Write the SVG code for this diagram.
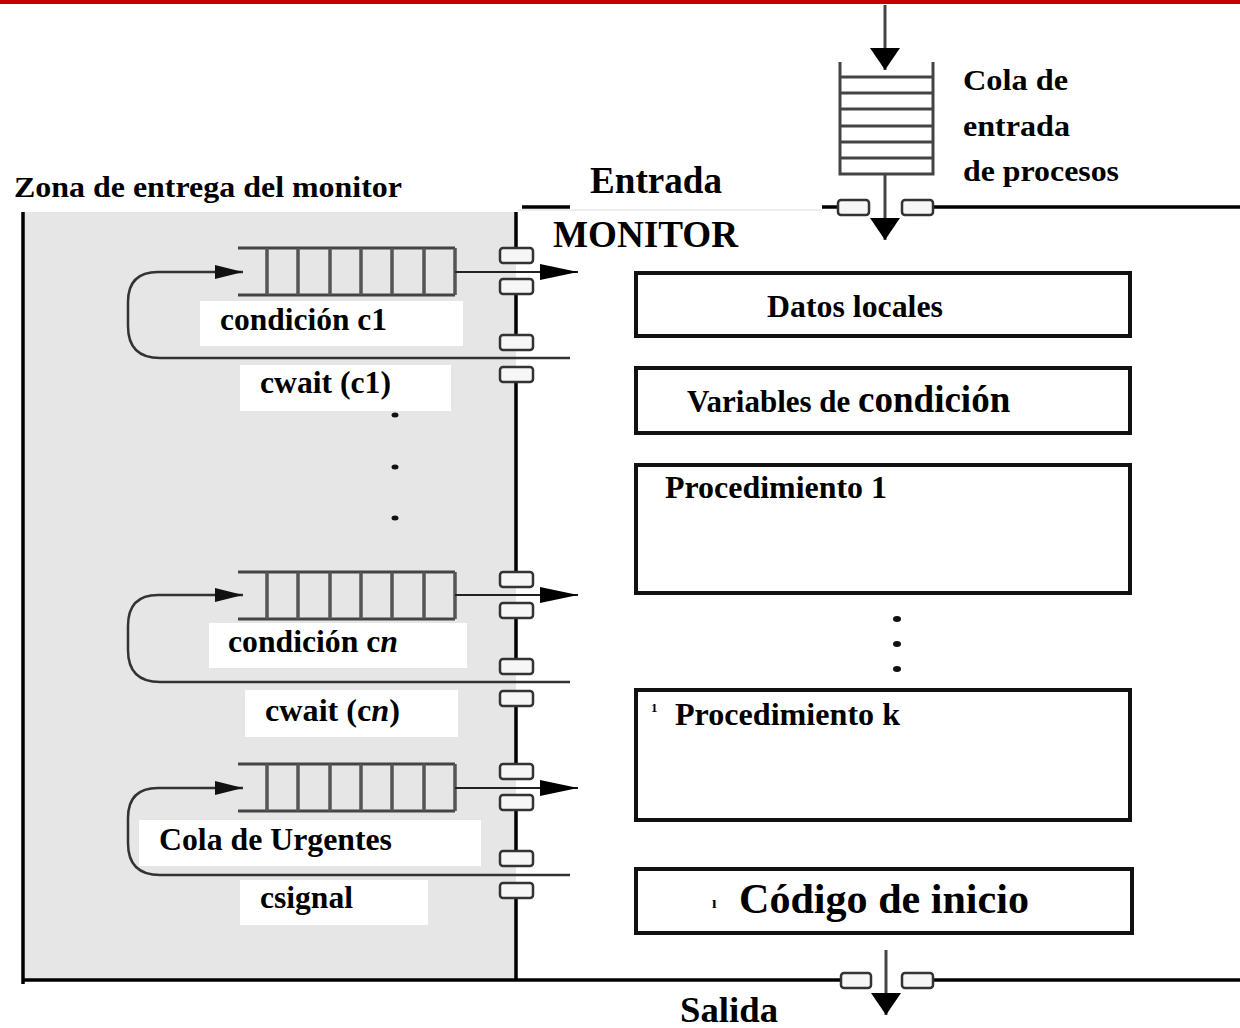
<svg xmlns="http://www.w3.org/2000/svg" xmlns:xlink="http://www.w3.org/1999/xlink" width="1240" height="1028" viewBox="0 0 1240 1028">
<style>
  .t { font-family: "Liberation Serif", "Times New Roman", serif; font-weight: bold; fill: #000; }
  .wall { stroke: #000; stroke-width: 3.5; fill: none; }
  .sq { fill: #f6f6f6; stroke: #333; stroke-width: 2.5; }
  .qline { stroke: #444; stroke-width: 3; fill: none; }
  .qbar { stroke: #555; stroke-width: 3.5; }
  .box { fill: #fff; stroke: #111; stroke-width: 4; }
  .lbl { fill: #fff; }
  .thin { stroke: #222; stroke-width: 2; fill: none; }
  .loop { stroke: #333; stroke-width: 2.5; fill: none; }
  .varrow { stroke: #444; stroke-width: 3; fill: none; }
  .dot { fill: #111; }
</style>
<defs>
  <marker id="arrQ" viewBox="0 0 38 16" refX="38" refY="8" markerWidth="38" markerHeight="16" markerUnits="userSpaceOnUse" orient="auto"><path d="M0,0 L38,8 L0,16 z" fill="#000"/></marker>
  <marker id="arrL" viewBox="0 0 28 14" refX="28" refY="7" markerWidth="28" markerHeight="14" markerUnits="userSpaceOnUse" orient="auto"><path d="M0,0 L28,7 L0,14 z" fill="#111"/></marker>
  <marker id="arrV" viewBox="0 0 22 30" refX="22" refY="15" markerWidth="22" markerHeight="30" markerUnits="userSpaceOnUse" orient="auto"><path d="M0,0 L22,15 L0,30 z" fill="#000"/></marker>
  <g id="queueShape">
    <line class="qline" x1="238" y1="0" x2="455" y2="0"/>
    <line class="qline" x1="238" y1="47" x2="455" y2="47"/>
    <line class="qbar" x1="267" y1="0" x2="267" y2="47"/>
    <line class="qbar" x1="298" y1="0" x2="298" y2="47"/>
    <line class="qbar" x1="330" y1="0" x2="330" y2="47"/>
    <line class="qbar" x1="361" y1="0" x2="361" y2="47"/>
    <line class="qbar" x1="392" y1="0" x2="392" y2="47"/>
    <line class="qbar" x1="424" y1="0" x2="424" y2="47"/>
    <line class="qbar" x1="455" y1="0" x2="455" y2="47"/>
  </g>
  <g id="gate">
    <rect class="sq" x="500" y="0" width="33" height="15" rx="3"/>
    <rect class="sq" x="500" y="31" width="33" height="15" rx="3"/>
    <rect class="sq" x="500" y="87" width="33" height="15" rx="3"/>
    <rect class="sq" x="500" y="119" width="33" height="15" rx="3"/>
  </g>
</defs>

<rect x="0" y="0" width="1240" height="4" fill="#c00000"/>

<g id="zona-entrega">
  <rect x="23" y="212" width="493" height="768" fill="#e6e6e6"/>
  <line class="wall" x1="23" y1="212" x2="23" y2="984"/>
  <text class="t" x="14" y="197" font-size="30" textLength="388" lengthAdjust="spacingAndGlyphs">Zona de entrega del monitor</text>
</g>

<g id="monitor">
  <line x1="518" y1="210" x2="822" y2="210" stroke="#dcdcdc" stroke-width="1"/>
  <line class="wall" x1="522" y1="207" x2="570" y2="207"/>
  <line class="wall" x1="822" y1="207" x2="838" y2="207"/>
  <line class="wall" x1="933" y1="207" x2="1240" y2="207"/>
  <rect class="sq" x="838" y="200" width="31" height="15" rx="3"/>
  <rect class="sq" x="902" y="200" width="31" height="15" rx="3"/>
  <line class="wall" x1="23" y1="980" x2="841" y2="980"/>
  <line class="wall" x1="933" y1="980" x2="1240" y2="980"/>
  <rect class="sq" x="841" y="973" width="30" height="15" rx="3"/>
  <rect class="sq" x="902" y="973" width="31" height="15" rx="3"/>
  <path class="wall" d="M516,212 V248 M516,294 V335 M516,382 V572 M516,618 V659 M516,706 V764 M516,810 V851 M516,898 V980"/>
  <use xlink:href="#gate" href="#gate" transform="translate(0,248)"/>
  <use xlink:href="#gate" href="#gate" transform="translate(0,572)"/>
  <use xlink:href="#gate" href="#gate" transform="translate(0,764)"/>
  <text class="t" x="590" y="193" font-size="37" textLength="132" lengthAdjust="spacingAndGlyphs">Entrada</text>
  <text class="t" x="553" y="247" font-size="37" textLength="185" lengthAdjust="spacingAndGlyphs">MONITOR</text>
  <text class="t" x="680" y="1022" font-size="36" textLength="98" lengthAdjust="spacingAndGlyphs">Salida</text>
</g>

<g id="cola-entrada">
  <path class="qline" d="M840,62 V174 H933 V62"/>
  <path class="qline" stroke-width="2.5" d="M840,77 H933 M840,93 H933 M840,109 H933 M840,126 H933 M840,142 H933 M840,158 H933"/>
  <text class="t" x="963" y="90" font-size="30" textLength="105" lengthAdjust="spacingAndGlyphs">Cola de</text>
  <text class="t" x="963" y="136" font-size="30" textLength="107" lengthAdjust="spacingAndGlyphs">entrada</text>
  <text class="t" x="963" y="181" font-size="30" textLength="156" lengthAdjust="spacingAndGlyphs">de procesos</text>
</g>

<g id="cola-c1">
  <use xlink:href="#queueShape" href="#queueShape" transform="translate(0,248)"/>
  <rect class="lbl" x="200" y="301" width="263" height="45"/>
  <text class="t" x="220" y="330" font-size="31" textLength="167" lengthAdjust="spacingAndGlyphs">condición c1</text>
  <rect class="lbl" x="240" y="365" width="211" height="46"/>
  <text class="t" x="260" y="393" font-size="31" textLength="131" lengthAdjust="spacingAndGlyphs">cwait (c1)</text>
</g>

<g id="puntos-izq">
  <ellipse class="dot" cx="395" cy="415" rx="3.5" ry="2.5"/>
  <ellipse class="dot" cx="395" cy="467" rx="3.5" ry="2.5"/>
  <ellipse class="dot" cx="395" cy="518" rx="3.5" ry="2.5"/>
</g>

<g id="cola-cn">
  <use xlink:href="#queueShape" href="#queueShape" transform="translate(0,572)"/>
  <rect class="lbl" x="209" y="623" width="258" height="45"/>
  <text class="t" x="228" y="652" font-size="31" textLength="170" lengthAdjust="spacingAndGlyphs">condición c<tspan font-style="italic">n</tspan></text>
  <rect class="lbl" x="245" y="690" width="213" height="47"/>
  <text class="t" x="265" y="721" font-size="31" textLength="135" lengthAdjust="spacingAndGlyphs">cwait (c<tspan font-style="italic">n</tspan>)</text>
</g>

<g id="cola-urgentes">
  <use xlink:href="#queueShape" href="#queueShape" transform="translate(0,764)"/>
  <rect class="lbl" x="139" y="820" width="342" height="46"/>
  <text class="t" x="159" y="850" font-size="31.5" textLength="233" lengthAdjust="spacingAndGlyphs">Cola de Urgentes</text>
  <rect class="lbl" x="240" y="880" width="188" height="45"/>
  <text class="t" x="260" y="908" font-size="31.5" textLength="93" lengthAdjust="spacingAndGlyphs">csignal</text>
</g>

<g id="datos-locales">
  <rect class="box" x="636" y="273" width="494" height="63"/>
  <text class="t" x="767" y="317" font-size="31.5" textLength="176" lengthAdjust="spacingAndGlyphs">Datos locales</text>
</g>

<g id="variables-condicion">
  <rect class="box" x="636" y="368" width="494" height="65"/>
  <text class="t" x="687" y="412" font-size="31">Variables de <tspan font-size="37">condición</tspan></text>
</g>

<g id="procedimiento-1">
  <rect class="box" x="636" y="465" width="494" height="128"/>
  <text class="t" x="665" y="498" font-size="31.5" textLength="222" lengthAdjust="spacingAndGlyphs">Procedimiento 1</text>
</g>

<g id="puntos-der">
  <ellipse class="dot" cx="897" cy="619" rx="4" ry="3"/>
  <ellipse class="dot" cx="897" cy="644" rx="4" ry="3"/>
  <ellipse class="dot" cx="897" cy="669" rx="4" ry="3"/>
</g>

<g id="procedimiento-k">
  <rect class="box" x="636" y="690" width="494" height="130"/>
  <text class="t" x="651" y="712" font-size="13" font-weight="normal">1</text>
  <text class="t" x="675" y="725" font-size="32" textLength="225" lengthAdjust="spacingAndGlyphs">Procedimiento k</text>
</g>

<g id="codigo-inicio">
  <rect class="box" x="636" y="869" width="496" height="64"/>
  <text class="t" x="712" y="908" font-size="16">ı</text>
  <text class="t" x="739" y="913" font-size="42" textLength="290" lengthAdjust="spacingAndGlyphs">Código de inicio</text>
</g>

<g id="connectors">
  <line class="varrow" x1="885" y1="5" x2="885" y2="70" marker-end="url(#arrV)"/>
  <line class="varrow" x1="885" y1="174" x2="885" y2="240" marker-end="url(#arrV)"/>
  <line class="varrow" x1="886" y1="950" x2="886" y2="1015" marker-end="url(#arrV)"/>
  <line class="thin" x1="455" y1="272" x2="578" y2="272" marker-end="url(#arrQ)"/>
  <line class="thin" x1="455" y1="595" x2="578" y2="595" marker-end="url(#arrQ)"/>
  <line class="thin" x1="455" y1="788" x2="578" y2="788" marker-end="url(#arrQ)"/>
  <path class="loop" d="M570,358 H160 Q128,358 128,326 V302 Q128,272 158,272 H243" marker-end="url(#arrL)"/>
  <path class="loop" d="M570,682 H160 Q128,682 128,650 V626 Q128,595 158,595 H243" marker-end="url(#arrL)"/>
  <path class="loop" d="M570,875 H160 Q128,875 128,843 V818 Q128,788 158,788 H243" marker-end="url(#arrL)"/>
</g>
</svg>
